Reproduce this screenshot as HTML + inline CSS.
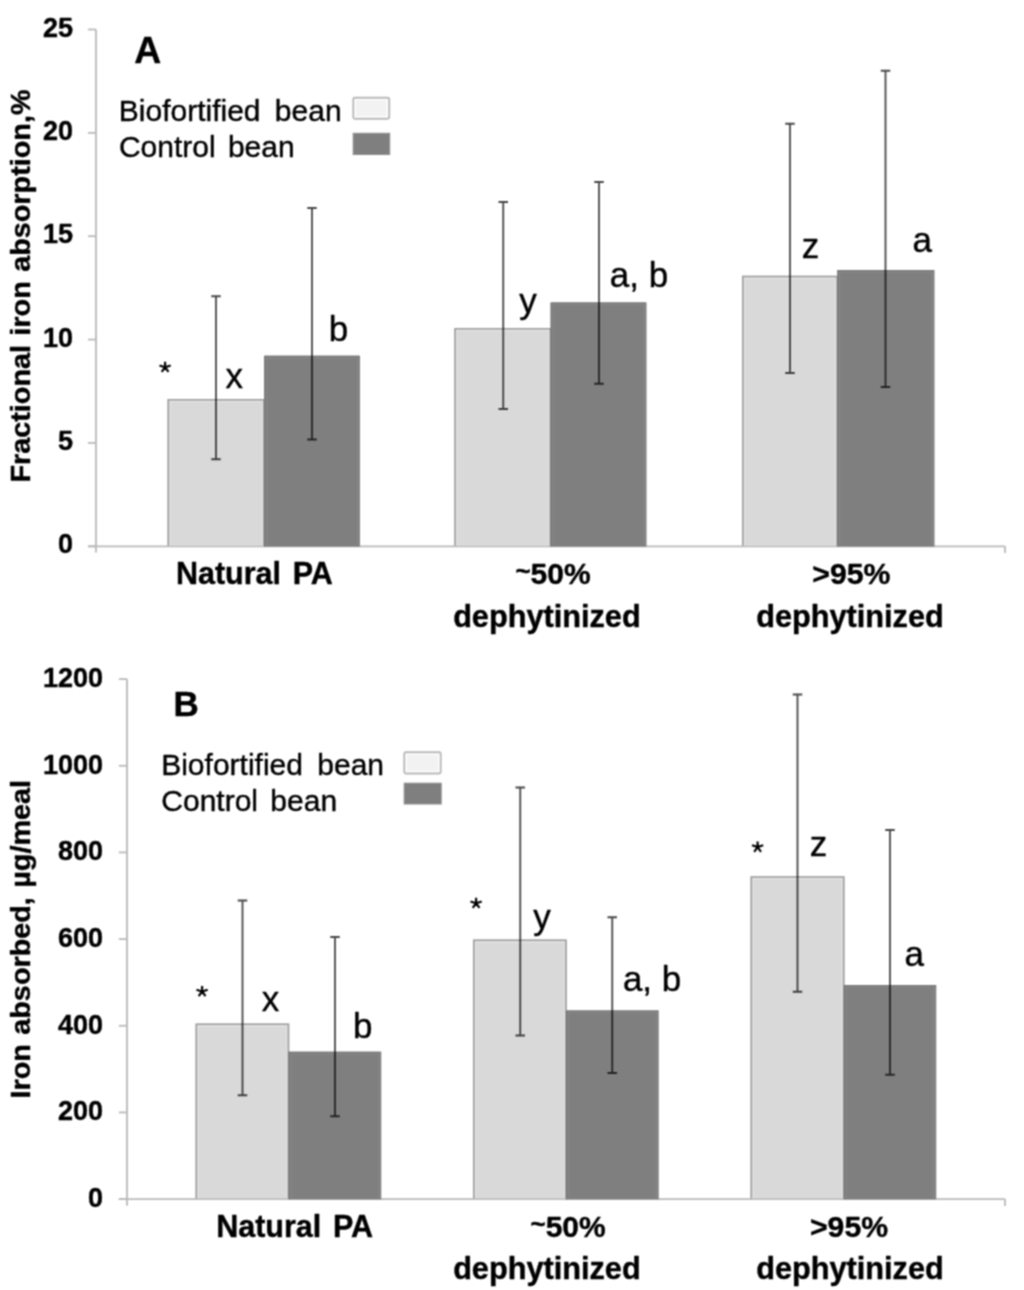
<!DOCTYPE html>
<html><head><meta charset="utf-8"><title>Figure</title>
<style>
html,body{margin:0;padding:0;background:#ffffff;}
body{width:1024px;height:1290px;overflow:hidden;font-family:"Liberation Sans",sans-serif;}
svg{display:block;}
text{fill:#000;stroke:#000;stroke-width:0.4px;stroke-linejoin:round;}
</style></head><body>
<svg width="1024" height="1290" viewBox="0 0 1024 1290">
<defs><filter id="soft" x="0" y="0" width="1024" height="1290" filterUnits="userSpaceOnUse" color-interpolation-filters="sRGB"><feConvolveMatrix order="3" kernelMatrix="1 2 1 2 4 2 1 2 1" divisor="16" edgeMode="duplicate"/></filter></defs>
<g filter="url(#soft)">
<rect x="-4" y="-4" width="1032" height="1298" fill="#ffffff"/>
<path d="M88 29.50H96" stroke="#b9b9b9" stroke-width="1.8"/>
<path d="M88 132.86H96" stroke="#b9b9b9" stroke-width="1.8"/>
<path d="M88 236.22H96" stroke="#b9b9b9" stroke-width="1.8"/>
<path d="M88 339.58H96" stroke="#b9b9b9" stroke-width="1.8"/>
<path d="M88 442.94H96" stroke="#b9b9b9" stroke-width="1.8"/>
<path d="M88 546.30H96" stroke="#b9b9b9" stroke-width="1.8"/>
<text x="73.00" y="36.60" font-size="27" font-family="Liberation Sans, sans-serif" font-weight="bold" text-anchor="end">25</text>
<text x="73.00" y="139.96" font-size="27" font-family="Liberation Sans, sans-serif" font-weight="bold" text-anchor="end">20</text>
<text x="73.00" y="243.32" font-size="27" font-family="Liberation Sans, sans-serif" font-weight="bold" text-anchor="end">15</text>
<text x="73.00" y="346.68" font-size="27" font-family="Liberation Sans, sans-serif" font-weight="bold" text-anchor="end">10</text>
<text x="73.00" y="450.04" font-size="27" font-family="Liberation Sans, sans-serif" font-weight="bold" text-anchor="end">5</text>
<text x="73.00" y="553.40" font-size="27" font-family="Liberation Sans, sans-serif" font-weight="bold" text-anchor="end">0</text>
<rect x="167.50" y="399.00" width="97.25" height="146.30" fill="#d9d9d9"/>
<path d="M169.80 545.30V401.30H262.45V545.30" fill="none" stroke="#e4e4e4" stroke-width="1.2"/>
<path d="M168.30 546.10V399.80H263.95V546.10" fill="none" stroke="#9c9c9c" stroke-width="1.6"/>
<rect x="454.25" y="328.00" width="97.00" height="217.30" fill="#d9d9d9"/>
<path d="M456.55 545.30V330.30H548.95V545.30" fill="none" stroke="#e4e4e4" stroke-width="1.2"/>
<path d="M455.05 546.10V328.80H550.45V546.10" fill="none" stroke="#9c9c9c" stroke-width="1.6"/>
<rect x="742.00" y="275.75" width="96.00" height="269.55" fill="#d9d9d9"/>
<path d="M744.30 545.30V278.05H835.70V545.30" fill="none" stroke="#e4e4e4" stroke-width="1.2"/>
<path d="M742.80 546.10V276.55H837.20V546.10" fill="none" stroke="#9c9c9c" stroke-width="1.6"/>
<path d="M96 29.5V552.6M88 546.3H1005M1005 546.3V553" stroke="#b9b9b9" stroke-width="1.8" fill="none"/>
<rect x="264.05" y="355.75" width="95.95" height="190.85" fill="#7f7f7f"/>
<path d="M266.25 545.70V357.75H358.00V545.70" fill="none" stroke="#888888" stroke-width="1.2"/>
<path d="M264.75 546.60V356.25H359.50" fill="none" stroke="#777777" stroke-width="1.1"/>
<rect x="550.55" y="302.50" width="95.95" height="244.10" fill="#7f7f7f"/>
<path d="M552.75 545.70V304.50H644.50V545.70" fill="none" stroke="#888888" stroke-width="1.2"/>
<path d="M551.25 546.60V303.00H646.00" fill="none" stroke="#777777" stroke-width="1.1"/>
<rect x="837.30" y="270.00" width="97.20" height="276.60" fill="#7f7f7f"/>
<path d="M839.50 545.70V272.00H932.50V545.70" fill="none" stroke="#888888" stroke-width="1.2"/>
<path d="M838.00 546.60V270.50H934.00" fill="none" stroke="#777777" stroke-width="1.1"/>
<path d="M216.00 296.25V459.25M211.25 296.25H220.75M211.25 459.25H220.75" stroke="#000" stroke-opacity="0.72" stroke-width="1.8" fill="none"/>
<path d="M312.00 208.00V439.50M307.25 208.00H316.75M307.25 439.50H316.75" stroke="#000" stroke-opacity="0.72" stroke-width="1.8" fill="none"/>
<path d="M503.25 202.00V409.00M498.50 202.00H508.00M498.50 409.00H508.00" stroke="#000" stroke-opacity="0.72" stroke-width="1.8" fill="none"/>
<path d="M599.00 182.00V383.75M594.25 182.00H603.75M594.25 383.75H603.75" stroke="#000" stroke-opacity="0.72" stroke-width="1.8" fill="none"/>
<path d="M790.00 123.75V373.00M785.25 123.75H794.75M785.25 373.00H794.75" stroke="#000" stroke-opacity="0.72" stroke-width="1.8" fill="none"/>
<path d="M885.50 70.75V387.00M880.75 70.75H890.25M880.75 387.00H890.25" stroke="#000" stroke-opacity="0.72" stroke-width="1.8" fill="none"/>
<text x="147.70" y="62.70" font-size="37.3" font-family="Liberation Sans, sans-serif" font-weight="bold" text-anchor="middle">A</text>
<text x="118.80" y="120.60" font-size="30" font-family="Liberation Sans, sans-serif" text-anchor="start" word-spacing="6">Biofortified bean</text>
<text x="118.90" y="157.20" font-size="30" font-family="Liberation Sans, sans-serif" text-anchor="start" word-spacing="4">Control bean</text>
<rect x="353.30" y="97.70" width="35.90" height="21.10" rx="1.5" fill="#ffffff" stroke="#b8b8b8" stroke-width="1.9"/>
<rect x="355.90" y="100.30" width="30.70" height="15.90" fill="#f2f2f2"/>
<rect x="353.20" y="133.30" width="36.50" height="21.20" fill="#7f7f7f" stroke="#8c8c8c" stroke-width="1"/>
<path d="M165.10 367.30L165.10 361.70M165.10 367.30L170.71 365.48M165.10 367.30L168.51 371.99M165.10 367.30L161.69 371.99M165.10 367.30L159.49 365.48" stroke="#000" stroke-width="2.15" fill="none"/>
<circle cx="165.10" cy="367.30" r="1.5" fill="#000"/>
<text x="234.25" y="388.00" font-size="35" font-family="Liberation Sans, sans-serif" text-anchor="middle">x</text>
<text x="338.40" y="340.70" font-size="35" font-family="Liberation Sans, sans-serif" text-anchor="middle">b</text>
<text x="528.10" y="313.20" font-size="35" font-family="Liberation Sans, sans-serif" text-anchor="middle">y</text>
<text x="639.00" y="286.60" font-size="35" font-family="Liberation Sans, sans-serif" text-anchor="middle">a, b</text>
<text x="810.50" y="257.80" font-size="35" font-family="Liberation Sans, sans-serif" text-anchor="middle">z</text>
<text x="922.30" y="252.30" font-size="35" font-family="Liberation Sans, sans-serif" text-anchor="middle">a</text>
<text x="254.40" y="583.75" font-size="30.5" font-family="Liberation Sans, sans-serif" font-weight="bold" text-anchor="middle" word-spacing="3.2">Natural PA</text>
<text x="553.00" y="583.75" font-size="30" font-family="Liberation Sans, sans-serif" font-weight="bold" text-anchor="middle"><tspan dy="-4" font-size="26">~</tspan><tspan dy="4">50%</tspan></text>
<text x="546.90" y="626.50" font-size="30.7" font-family="Liberation Sans, sans-serif" font-weight="bold" text-anchor="middle">dephytinized</text>
<text x="851.40" y="583.75" font-size="30.2" font-family="Liberation Sans, sans-serif" font-weight="bold" text-anchor="middle">&gt;95%</text>
<text x="850.00" y="626.50" font-size="30.7" font-family="Liberation Sans, sans-serif" font-weight="bold" text-anchor="middle">dephytinized</text>
<text transform="translate(29.90 482.60) rotate(-90) scale(1 0.95)" font-size="28.8" font-family="Liberation Sans, sans-serif" font-weight="bold" word-spacing="1.4">Fractional iron absorption,%</text>
<path d="M118.8 679.10H127" stroke="#b9b9b9" stroke-width="1.8"/>
<path d="M118.8 765.77H127" stroke="#b9b9b9" stroke-width="1.8"/>
<path d="M118.8 852.43H127" stroke="#b9b9b9" stroke-width="1.8"/>
<path d="M118.8 939.10H127" stroke="#b9b9b9" stroke-width="1.8"/>
<path d="M118.8 1025.77H127" stroke="#b9b9b9" stroke-width="1.8"/>
<path d="M118.8 1112.43H127" stroke="#b9b9b9" stroke-width="1.8"/>
<path d="M118.8 1199.10H127" stroke="#b9b9b9" stroke-width="1.8"/>
<text x="103.00" y="687.00" font-size="27" font-family="Liberation Sans, sans-serif" font-weight="bold" text-anchor="end">1200</text>
<text x="103.00" y="773.67" font-size="27" font-family="Liberation Sans, sans-serif" font-weight="bold" text-anchor="end">1000</text>
<text x="103.00" y="860.33" font-size="27" font-family="Liberation Sans, sans-serif" font-weight="bold" text-anchor="end">800</text>
<text x="103.00" y="947.00" font-size="27" font-family="Liberation Sans, sans-serif" font-weight="bold" text-anchor="end">600</text>
<text x="103.00" y="1033.67" font-size="27" font-family="Liberation Sans, sans-serif" font-weight="bold" text-anchor="end">400</text>
<text x="103.00" y="1120.34" font-size="27" font-family="Liberation Sans, sans-serif" font-weight="bold" text-anchor="end">200</text>
<text x="103.00" y="1207.00" font-size="27" font-family="Liberation Sans, sans-serif" font-weight="bold" text-anchor="end">0</text>
<rect x="195.50" y="1023.50" width="93.75" height="174.60" fill="#d9d9d9"/>
<path d="M197.80 1198.10V1025.80H286.95V1198.10" fill="none" stroke="#e4e4e4" stroke-width="1.2"/>
<path d="M196.30 1198.90V1024.30H288.45V1198.90" fill="none" stroke="#9c9c9c" stroke-width="1.6"/>
<rect x="473.00" y="939.50" width="93.75" height="258.60" fill="#d9d9d9"/>
<path d="M475.30 1198.10V941.80H564.45V1198.10" fill="none" stroke="#e4e4e4" stroke-width="1.2"/>
<path d="M473.80 1198.90V940.30H565.95V1198.90" fill="none" stroke="#9c9c9c" stroke-width="1.6"/>
<rect x="750.50" y="876.25" width="94.00" height="321.85" fill="#d9d9d9"/>
<path d="M752.80 1198.10V878.55H842.20V1198.10" fill="none" stroke="#e4e4e4" stroke-width="1.2"/>
<path d="M751.30 1198.90V877.05H843.70V1198.90" fill="none" stroke="#9c9c9c" stroke-width="1.6"/>
<path d="M127 679.1V1205.8M118.8 1199.1H1005M1005 1199.1V1206" stroke="#b9b9b9" stroke-width="1.8" fill="none"/>
<rect x="288.55" y="1051.75" width="92.70" height="147.65" fill="#7f7f7f"/>
<path d="M290.75 1198.50V1053.75H379.25V1198.50" fill="none" stroke="#888888" stroke-width="1.2"/>
<path d="M289.25 1199.40V1052.25H380.75" fill="none" stroke="#777777" stroke-width="1.1"/>
<rect x="566.05" y="1010.50" width="92.70" height="188.90" fill="#7f7f7f"/>
<path d="M568.25 1198.50V1012.50H656.75V1198.50" fill="none" stroke="#888888" stroke-width="1.2"/>
<path d="M566.75 1199.40V1011.00H658.25" fill="none" stroke="#777777" stroke-width="1.1"/>
<rect x="843.80" y="985.00" width="92.45" height="214.40" fill="#7f7f7f"/>
<path d="M846.00 1198.50V987.00H934.25V1198.50" fill="none" stroke="#888888" stroke-width="1.2"/>
<path d="M844.50 1199.40V985.50H935.75" fill="none" stroke="#777777" stroke-width="1.1"/>
<path d="M242.50 900.50V1095.25M237.75 900.50H247.25M237.75 1095.25H247.25" stroke="#000" stroke-opacity="0.72" stroke-width="1.8" fill="none"/>
<path d="M335.00 937.00V1116.25M330.25 937.00H339.75M330.25 1116.25H339.75" stroke="#000" stroke-opacity="0.72" stroke-width="1.8" fill="none"/>
<path d="M520.25 787.50V1035.50M515.50 787.50H525.00M515.50 1035.50H525.00" stroke="#000" stroke-opacity="0.72" stroke-width="1.8" fill="none"/>
<path d="M612.25 917.25V1073.00M607.50 917.25H617.00M607.50 1073.00H617.00" stroke="#000" stroke-opacity="0.72" stroke-width="1.8" fill="none"/>
<path d="M797.50 694.50V991.75M792.75 694.50H802.25M792.75 991.75H802.25" stroke="#000" stroke-opacity="0.72" stroke-width="1.8" fill="none"/>
<path d="M890.00 830.00V1074.75M885.25 830.00H894.75M885.25 1074.75H894.75" stroke="#000" stroke-opacity="0.72" stroke-width="1.8" fill="none"/>
<text x="186.10" y="716.30" font-size="35" font-family="Liberation Sans, sans-serif" font-weight="bold" text-anchor="middle">B</text>
<text x="161.20" y="774.70" font-size="30" font-family="Liberation Sans, sans-serif" text-anchor="start" word-spacing="6">Biofortified bean</text>
<text x="161.30" y="811.25" font-size="30" font-family="Liberation Sans, sans-serif" text-anchor="start" word-spacing="4">Control bean</text>
<rect x="404.30" y="752.25" width="36.40" height="21.25" rx="1.5" fill="#ffffff" stroke="#b8b8b8" stroke-width="1.9"/>
<rect x="406.90" y="754.85" width="31.20" height="16.05" fill="#f2f2f2"/>
<rect x="404.20" y="783.20" width="37.00" height="20.80" fill="#7f7f7f" stroke="#8c8c8c" stroke-width="1"/>
<path d="M202.10 991.50L202.10 985.90M202.10 991.50L207.71 989.68M202.10 991.50L205.51 996.19M202.10 991.50L198.69 996.19M202.10 991.50L196.49 989.68" stroke="#000" stroke-width="2.15" fill="none"/>
<circle cx="202.10" cy="991.50" r="1.5" fill="#000"/>
<text x="270.60" y="1011.00" font-size="35" font-family="Liberation Sans, sans-serif" text-anchor="middle">x</text>
<text x="362.75" y="1037.70" font-size="35" font-family="Liberation Sans, sans-serif" text-anchor="middle">b</text>
<path d="M476.10 903.30L476.10 897.70M476.10 903.30L481.71 901.48M476.10 903.30L479.51 907.99M476.10 903.30L472.69 907.99M476.10 903.30L470.49 901.48" stroke="#000" stroke-width="2.15" fill="none"/>
<circle cx="476.10" cy="903.30" r="1.5" fill="#000"/>
<text x="541.90" y="928.70" font-size="35" font-family="Liberation Sans, sans-serif" text-anchor="middle">y</text>
<text x="652.10" y="991.25" font-size="35" font-family="Liberation Sans, sans-serif" text-anchor="middle">a, b</text>
<path d="M757.60 847.10L757.60 841.50M757.60 847.10L763.21 845.28M757.60 847.10L761.01 851.79M757.60 847.10L754.19 851.79M757.60 847.10L751.99 845.28" stroke="#000" stroke-width="2.15" fill="none"/>
<circle cx="757.60" cy="847.10" r="1.5" fill="#000"/>
<text x="818.50" y="856.00" font-size="35" font-family="Liberation Sans, sans-serif" text-anchor="middle">z</text>
<text x="914.20" y="965.70" font-size="35" font-family="Liberation Sans, sans-serif" text-anchor="middle">a</text>
<text x="294.60" y="1237.20" font-size="30.5" font-family="Liberation Sans, sans-serif" font-weight="bold" text-anchor="middle" word-spacing="3.2">Natural PA</text>
<text x="568.10" y="1237.20" font-size="30" font-family="Liberation Sans, sans-serif" font-weight="bold" text-anchor="middle"><tspan dy="-4" font-size="26">~</tspan><tspan dy="4">50%</tspan></text>
<text x="546.90" y="1278.75" font-size="30.7" font-family="Liberation Sans, sans-serif" font-weight="bold" text-anchor="middle">dephytinized</text>
<text x="849.00" y="1237.20" font-size="30.2" font-family="Liberation Sans, sans-serif" font-weight="bold" text-anchor="middle">&gt;95%</text>
<text x="850.00" y="1278.75" font-size="30.7" font-family="Liberation Sans, sans-serif" font-weight="bold" text-anchor="middle">dephytinized</text>
<text transform="translate(29.90 1098.50) rotate(-90) scale(1 0.95)" font-size="28.8" font-family="Liberation Sans, sans-serif" font-weight="bold" word-spacing="1.4">Iron absorbed, µg/meal</text>
</g>
</svg>
</body></html>
